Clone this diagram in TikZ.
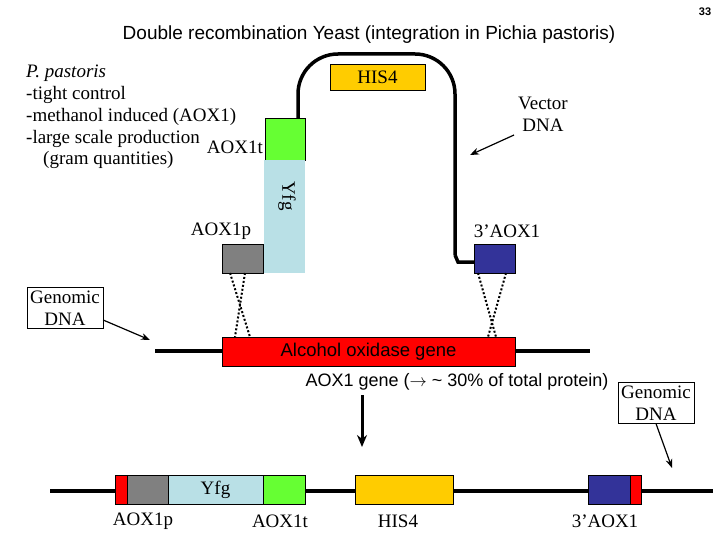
\documentclass[tikz,border=0pt]{standalone}
\usepackage{fontspec}
\setmainfont{Liberation Serif}
\newfontfamily\sansf{Liberation Sans}
\usetikzlibrary{arrows.meta}
\definecolor{hisyellow}{RGB}{255,204,0}
\definecolor{aoxblue}{RGB}{51,51,153}
\definecolor{yfgblue}{RGB}{185,224,230}
\definecolor{termgreen}{RGB}{102,255,51}
\definecolor{promgray}{RGB}{128,128,128}
\tikzset{
  /tikz/.cd,
  gene/.style={draw=black,line width=0.6pt,inner sep=0pt},
  lbl/.style={font=\fontsize{19}{22}\selectfont,inner sep=1pt},
  dna/.style={line width=4pt},
  cross/.style={line width=2pt,dotted}
}
\begin{document}
\begin{tikzpicture}[x=1pt,y=-1pt]
      \useasboundingbox (0,0) rectangle (720,540);
      \node[font=\sansf\bfseries\fontsize{11}{13}\selectfont] (page) at (705,12) {33};
      \node[font=\sansf\fontsize{19}{22}\selectfont] (title) at (369,35) {Double recombination Yeast (integration in Pichia pastoris)};

      % notes
      \node[lbl,anchor=west] (pp) at (25,73) {\textit{P. pastoris}};
      \node[lbl,anchor=west] (n1) at (25,95) {-tight control};
      \node[lbl,anchor=west] (n2) at (25,117) {-methanol induced (AOX1)};
      \node[lbl,anchor=west] (n3) at (25,139) {-large scale production};
      \node[lbl,anchor=west] (n4) at (42,160) {(gram quantities)};

      % vector
      \draw[dna,line width=3.5pt,rounded corners=40pt] (298,120) -- (298,54) -- (455,54) -- (455,255);
      \draw[dna,line width=3.5pt] (455,255) -- (458,262) -- (475,262);
      \node[gene,fill=hisyellow,minimum width=95,minimum height=26,lbl] (his) at (377.5,77) {HIS4};
      \node[gene,fill=termgreen,minimum width=40,minimum height=42] (term) at (285,139) {};
      \node[lbl,anchor=east] (termlbl) at (264,147) {AOX1t};
      \fill[yfgblue] (264,160) rectangle (305,273);
      \node[lbl,rotate=-90] (yfg) at (287,196) {Yfg};
      \node[gene,fill=promgray,minimum width=41,minimum height=29] (prom) at (243,258.5) {};
      \node[lbl] (promlbl) at (221,231) {AOX1p};
      \node[gene,fill=aoxblue,minimum width=41,minimum height=29] (aox) at (495,258.5) {};
      \node[lbl] (aoxlbl) at (507,231) {3’AOX1};
      \node[lbl,align=center] (vec) at (543,114) {Vector\\DNA};
      \draw[-{Stealth[length=9pt]},line width=1.2pt] (514,135) -- (470,155);

      % genome
      \node[gene,lbl,align=center,inner sep=3pt] (gen1) at (65,308) {Genomic\\DNA};
      \draw[-{Stealth[length=9pt]},line width=1.2pt] (gen1.east) ++(0,12) -- (150,340);
      \draw[dna] (155,351) -- (590,351);
      \node[gene,fill=red,minimum width=293,minimum height=29,font=\sansf\fontsize{18.5}{20}\selectfont,text=black] (alc) at (368.5,351.5) {Alcohol oxidase gene};
      \draw[cross] (230,273) -- (250,337);
      \draw[cross] (245,273) -- (235,337);
      \draw[cross] (478,273) -- (496,337);
      \draw[cross] (506,273) -- (488,337);
      \node[font=\sansf\fontsize{18}{20}\selectfont] (prot) at (457,382) {AOX1 gene ($\rightarrow$ \textasciitilde\ 30\% of total protein)};
      \node[gene,lbl,align=center,inner sep=3pt] (gen2) at (656,403) {Genomic\\DNA};
      \draw[-{Stealth[length=9pt]},line width=1.2pt] (gen2.south) -- (672,468);
      \coordinate (down) at (362,447);
      \draw[-{Stealth[length=12pt,width=10pt]},line width=3pt] (362,395) -- (down);

      % integrated
      \draw[dna] (50,491) -- (713,491);
      \node[gene,fill=red,minimum width=12,minimum height=29] (r1) at (121,489.5) {};
      \node[gene,fill=promgray,minimum width=41,minimum height=29] (p2) at (147.5,489.5) {};
      \node[gene,fill=yfgblue,minimum width=95,minimum height=29,lbl] (y2) at (215.5,489.5) {Yfg};
      \node[gene,fill=termgreen,minimum width=42,minimum height=29] (t2) at (284,489.5) {};
      \node[gene,fill=hisyellow,minimum width=98,minimum height=29] (h2) at (404,489.5) {};
      \node[gene,fill=aoxblue,minimum width=42,minimum height=29] (a2) at (609,489.5) {};
      \node[gene,fill=red,minimum width=11,minimum height=29] (r2) at (635.5,489.5) {};
      \node[lbl] (l1) at (143,521) {AOX1p};
      \node[lbl] (l2) at (280,521) {AOX1t};
      \node[lbl] (l3) at (398,521) {HIS4};
      \node[lbl] (l4) at (605,521) {3’AOX1};
\end{tikzpicture}
\end{document}
